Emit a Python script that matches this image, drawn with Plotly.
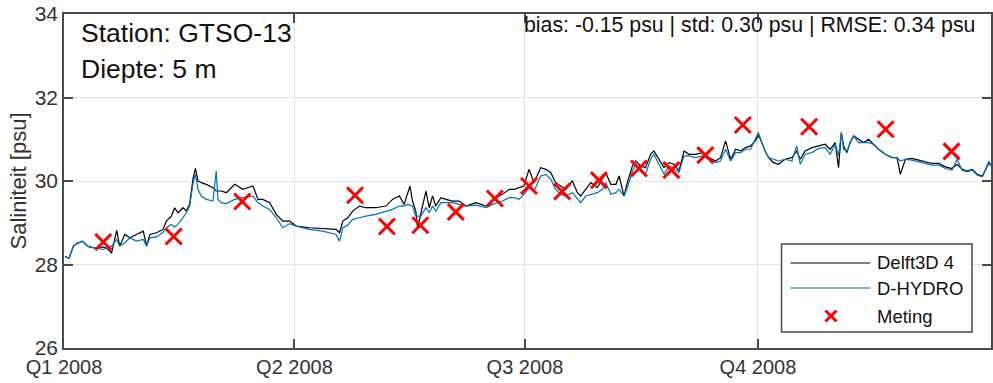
import pandas as pd
import plotly.graph_objects as go

# Salinity time series at station GTSO-13, 5 m depth (day offsets from 2008-01-01)
delft_days = [0.4, 2.0, 3.7, 5.0, 7.3, 8.6, 10.0, 12.0, 14.0, 15.5, 17.0, 18.8, 20.8, 22.0, 24.0, 26.0,
              28.6, 31.3, 32.6, 33.9, 36.5, 39.1, 40.4, 42.4, 43.7, 45.0, 47.0, 48.3, 49.6, 51.0, 51.9,
              52.9, 54.2, 56.2, 58.8, 60.1, 62.1, 64.1, 67.4, 70.6, 74.6, 76.6, 78.5, 81.2, 83.8, 86.4,
              89.1, 91.7, 96.9, 102.2, 107.4, 108.8, 110.1, 112.0, 114.0, 116.6, 119.2, 123.2, 127.1,
              129.7, 132.4, 134.3, 135.6, 136.6, 137.6, 138.9, 139.6, 140.9, 142.9, 144.2, 145.5, 146.8,
              148.8, 150.8, 153.4, 156.0, 158.7, 162.6, 166.6, 169.2, 173.1, 175.8, 177.7, 179.7, 181.6,
              183.6, 185.6, 188.2, 190.2, 192.2, 194.1, 196.1, 198.1, 200.7, 202.7, 204.0, 206.0, 208.0,
              210.6, 212.6, 213.9, 215.9, 217.9, 219.2, 221.1, 222.4, 224.4, 225.7, 227.7, 229.6, 231.6,
              232.9, 234.9, 236.9, 238.9, 240.8, 242.8, 244.8, 246.7, 249.4, 252.0, 254.6, 257.3, 259.2,
              261.2, 263.2, 265.2, 267.1, 269.1, 271.1, 273.0, 274.2, 275.5, 276.8, 278.2, 280.1, 282.1,
              284.7, 287.4, 289.3, 290.7, 292.6, 295.3, 297.9, 300.5, 302.5, 304.5, 305.8, 306.9, 307.8,
              309.1, 310.4, 311.8, 313.7, 315.7, 317.7, 319.6, 321.6, 324.3, 326.9, 328.9, 330.2, 332.2,
              334.8, 337.5, 340.1, 342.7, 345.4, 348.0, 350.6, 352.6, 354.6, 356.6, 358.6, 360.6, 362.6,
              365.2, 365.9]
delft_sal = [28.19, 28.15, 28.44, 28.50, 28.56, 28.48, 28.42, 28.40, 28.40, 28.42, 28.38, 28.28, 28.82, 28.44,
             28.72, 28.64, 28.72, 28.80, 28.44, 28.72, 28.76, 28.84, 29.04, 29.16, 29.36, 29.24, 29.36, 29.28,
             29.44, 30.08, 30.30, 30.00, 29.96, 29.92, 29.84, 29.76, 29.76, 29.72, 29.92, 29.80, 29.88, 29.56,
             29.56, 29.48, 29.20, 29.04, 29.04, 28.92, 28.88, 28.86, 28.84, 28.76, 29.04, 29.12, 29.28, 29.40,
             29.36, 29.36, 29.40, 29.56, 29.64, 29.44, 29.72, 29.88, 29.52, 29.28, 28.88, 29.24, 29.76, 29.36,
             29.64, 29.40, 29.60, 29.56, 29.52, 29.52, 29.40, 29.48, 29.40, 29.56, 29.68, 29.80, 29.80, 29.84,
             29.88, 30.28, 29.96, 30.32, 30.28, 30.20, 29.96, 29.88, 29.80, 30.00, 29.72, 29.64, 29.80, 29.96,
             29.84, 30.04, 30.20, 29.92, 29.92, 30.12, 29.64, 29.96, 30.36, 30.48, 30.36, 30.32, 30.64, 30.72,
             30.52, 30.32, 30.44, 30.40, 30.24, 30.72, 30.64, 30.64, 30.68, 30.56, 30.48, 30.56, 30.96, 30.52,
             30.76, 30.72, 30.80, 30.84, 30.96, 31.10, 30.92, 30.72, 30.56, 30.44, 30.40, 30.52, 30.56, 30.72,
             30.52, 30.72, 30.80, 30.84, 30.88, 30.76, 30.92, 30.32, 31.16, 30.84, 30.68, 30.92, 31.08, 31.00,
             30.92, 31.00, 30.88, 30.76, 30.64, 30.56, 30.56, 30.16, 30.52, 30.54, 30.50, 30.46, 30.42, 30.42,
             30.34, 30.30, 30.40, 30.28, 30.24, 30.28, 30.16, 30.12, 30.44, 30.38]

dhydro_days = [0.4, 2.0, 3.7, 5.0, 7.3, 8.6, 10.0, 12.0, 14.0, 15.5, 17.0, 18.8, 20.8, 22.0, 24.0, 26.0,
               28.6, 31.3, 32.6, 33.9, 36.5, 39.1, 40.4, 42.4, 43.7, 45.0, 47.0, 48.3, 49.6, 51.0, 51.9,
               52.9, 54.2, 56.2, 58.8, 60.1, 60.8, 62.1, 64.1, 67.4, 70.6, 74.6, 76.6, 78.5, 81.2, 83.8,
               86.4, 89.1, 91.7, 96.9, 102.2, 107.4, 108.8, 110.1, 112.0, 114.0, 116.6, 119.2, 123.2, 127.1,
               129.7, 132.4, 134.3, 135.6, 137.6, 138.9, 140.9, 142.9, 144.2, 145.5, 146.8, 148.8, 150.8,
               153.4, 156.0, 158.7, 162.6, 166.6, 169.2, 173.1, 175.8, 177.7, 179.7, 181.6, 183.6, 185.6,
               188.2, 190.2, 192.2, 194.1, 196.1, 198.1, 200.7, 202.7, 204.0, 206.0, 208.0, 210.6, 212.6,
               213.9, 215.9, 217.9, 219.2, 221.1, 222.4, 224.4, 225.7, 227.7, 229.6, 231.6, 232.9, 234.9,
               236.9, 238.9, 240.8, 242.8, 244.8, 246.7, 249.4, 252.0, 254.6, 257.3, 259.2, 261.2, 263.2,
               265.2, 267.1, 269.1, 271.1, 273.0, 274.1, 275.5, 276.8, 278.2, 280.1, 282.1, 284.7, 287.4,
               289.3, 290.7, 292.6, 295.3, 297.9, 300.5, 302.5, 304.5, 305.8, 306.9, 307.8, 309.1, 310.4,
               311.8, 313.7, 315.7, 317.7, 319.6, 321.6, 324.3, 326.9, 328.9, 330.2, 332.2, 334.8, 337.5,
               340.1, 342.7, 345.4, 348.0, 350.6, 352.6, 354.6, 356.6, 358.6, 360.6, 362.6, 365.2, 365.9]
dhydro_sal = [28.19, 28.15, 28.44, 28.50, 28.56, 28.48, 28.42, 28.40, 28.38, 28.36, 28.40, 28.44, 28.60, 28.44,
              28.52, 28.64, 28.56, 28.60, 28.44, 28.64, 28.66, 28.77, 28.88, 28.96, 28.90, 28.96, 29.12, 29.24,
              29.40, 29.96, 30.16, 29.80, 29.64, 29.56, 29.52, 30.24, 29.56, 29.48, 29.46, 29.56, 29.60, 29.64,
              29.48, 29.40, 29.32, 29.12, 28.88, 28.98, 28.92, 28.84, 28.80, 28.72, 28.56, 28.88, 28.94, 29.08,
              29.12, 29.16, 29.20, 29.28, 29.32, 29.40, 29.40, 29.44, 29.40, 29.16, 29.16, 29.36, 29.24, 29.40,
              29.28, 29.48, 29.48, 29.48, 29.44, 29.40, 29.42, 29.36, 29.44, 29.52, 29.60, 29.60, 29.56, 29.68,
              29.84, 29.76, 30.12, 30.16, 30.04, 29.80, 29.68, 29.64, 29.72, 29.56, 29.48, 29.64, 29.68, 29.72,
              29.80, 29.96, 29.68, 29.72, 29.80, 29.64, 29.84, 30.24, 30.40, 30.28, 30.16, 30.52, 30.64, 30.40,
              30.16, 30.36, 30.28, 30.20, 30.60, 30.60, 30.56, 30.60, 30.52, 30.44, 30.48, 30.76, 30.48, 30.68,
              30.68, 30.76, 30.76, 31.00, 31.16, 30.92, 30.72, 30.56, 30.52, 30.48, 30.52, 30.48, 30.84, 30.40,
              30.64, 30.68, 30.78, 30.80, 30.64, 30.88, 30.60, 31.16, 30.76, 30.72, 30.92, 31.08, 30.92, 30.92,
              30.92, 30.88, 30.76, 30.64, 30.56, 30.56, 30.48, 30.52, 30.50, 30.46, 30.42, 30.38, 30.38, 30.30,
              30.26, 30.52, 30.26, 30.22, 30.26, 30.14, 30.10, 30.48, 30.36]

meting_days = [15.5, 43.3, 70.4, 114.9, 127.5, 140.7, 154.7, 170.1, 183.6, 196.7, 211.2, 227.0,
               239.8, 253.2, 268.0, 294.2, 324.4, 350.4]
meting_sal = [28.54, 28.67, 29.51, 29.66, 28.91, 28.94, 29.26, 29.58, 29.88, 29.75, 30.02, 30.30,
              30.26, 30.62, 31.34, 31.30, 31.24, 30.71]

tick_dates = ["2008-01-01", "2008-04-01", "2008-07-01", "2008-10-01"]
tick_labels = ["Q1 2008", "Q2 2008", "Q3 2008", "Q4 2008"]
y_ticks = [26, 28, 30, 32, 34]

station_text = "Station: GTSO-13"
depth_text = "Diepte: 5 m"
stats_text = "bias: -0.15 psu | std: 0.30 psu | RMSE: 0.34 psu"
legend_names = ["Delft3D 4", "D-HYDRO", "Meting"]

start = pd.Timestamp("2008-01-01")


def to_dates(days):
    return start + pd.to_timedelta(days, unit="D")


FONT = "Liberation Sans, Arial, sans-serif"
AXIS = "#4a4a4a"
GRID = "#e3e3e3"
BLACK = "#000000"
BLUE = "#0072BD"
RED = "#FF0000"

fig = go.Figure()
fig.add_trace(go.Scatter(x=to_dates(delft_days), y=delft_sal, mode="lines",
                         line=dict(color=BLACK, width=1.2), name=legend_names[0]))
fig.add_trace(go.Scatter(x=to_dates(dhydro_days), y=dhydro_sal, mode="lines",
                         line=dict(color=BLUE, width=1.2), name=legend_names[1]))
fig.add_trace(go.Scatter(x=to_dates(meting_days), y=meting_sal, mode="markers",
                         marker=dict(symbol="x-thin", size=16, line=dict(color=RED, width=3)),
                         name=legend_names[2]))

fig.update_layout(
    width=993, height=383,
    margin=dict(l=64, r=0, t=14, b=35),
    paper_bgcolor="white", plot_bgcolor="white",
    showlegend=False,
    font=dict(family=FONT, size=19, color="#262626"),
)

fig.update_xaxes(
    type="date", range=["2008-01-01", "2009-01-01"],
    tickvals=tick_dates, ticktext=tick_labels,
    showgrid=True, gridcolor=GRID, gridwidth=1,
    showline=True, linecolor=AXIS, linewidth=1.5, mirror="ticks",
    ticks="inside", ticklen=9, tickcolor=AXIS, tickwidth=1.5,
    tickfont=dict(size=20, color="#333333"), zeroline=False,
)
fig.update_yaxes(
    range=[26, 34], tickvals=y_ticks,
    showgrid=True, gridcolor=GRID, gridwidth=1,
    showline=True, linecolor=AXIS, linewidth=1.5, mirror="ticks",
    ticks="inside", ticklen=9, tickcolor=AXIS, tickwidth=1.5,
    tickfont=dict(size=21, color="#333333"), zeroline=False,
    title=dict(text="Saliniteit [psu]", font=dict(size=22, color="#333333"), standoff=2),
)

# Station / depth labels and skill statistics
fig.add_annotation(xref="paper", yref="paper", x=0.0165, y=0.942, xanchor="left", yanchor="middle",
                   text=station_text, showarrow=False, font=dict(size=26.5, color="#111111"))
fig.add_annotation(xref="paper", yref="paper", x=0.0165, y=0.834, xanchor="left", yanchor="middle",
                   text=depth_text, showarrow=False, font=dict(size=26.5, color="#111111"))
fig.add_annotation(xref="paper", yref="paper", x=0.985, y=0.968, xanchor="right", yanchor="middle",
                   text=stats_text, showarrow=False, font=dict(size=21.3, color="#111111"))

# Legend box with long line samples
lx0, lx1, ly0, ly1 = 0.774, 0.9795, 0.048, 0.3114
fig.add_shape(type="rect", xref="paper", yref="paper", x0=lx0, x1=lx1, y0=ly0, y1=ly1,
              line=dict(color=AXIS, width=1.5), fillcolor="white", layer="above")
rows = [0.2545, 0.1796, 0.0958]
sx0, sx1 = 0.7836, 0.8698
fig.add_shape(type="line", xref="paper", yref="paper", x0=sx0, x1=sx1, y0=rows[0], y1=rows[0],
              line=dict(color=BLACK, width=1.2), layer="above")
fig.add_shape(type="line", xref="paper", yref="paper", x0=sx0, x1=sx1, y0=rows[1], y1=rows[1],
              line=dict(color=BLUE, width=1.2), layer="above")
cx, hx, hy = 0.8274, 0.0060, 0.0165
for sgn in (1, -1):
    fig.add_shape(type="line", xref="paper", yref="paper", x0=cx - hx, x1=cx + hx,
                  y0=rows[2] - sgn * hy, y1=rows[2] + sgn * hy,
                  line=dict(color=RED, width=3), layer="above")
for name, ry in zip(legend_names, rows):
    fig.add_annotation(xref="paper", yref="paper", x=0.8751, y=ry, xanchor="left", yanchor="middle",
                       text=name, showarrow=False, font=dict(size=18.5, color="#111111"))

fig.write_html("out.html")
